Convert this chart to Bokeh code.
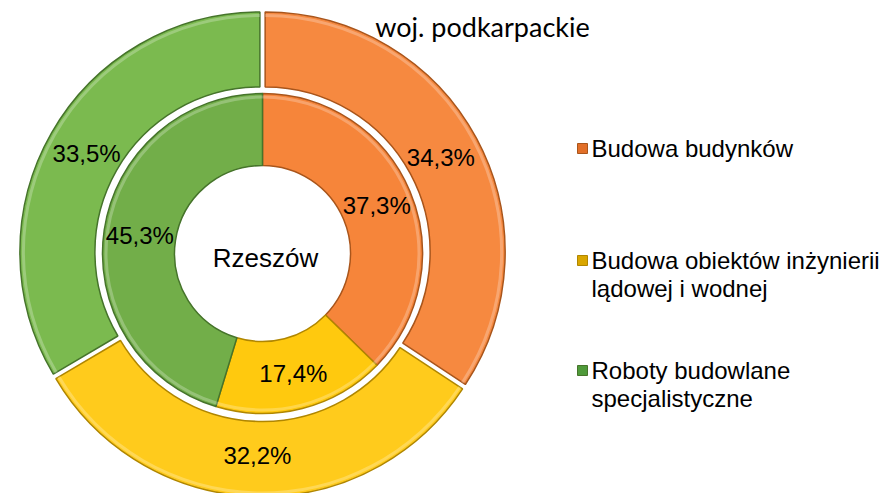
import math
from bokeh.plotting import figure
from bokeh.models import ColumnDataSource
from bokeh.core.properties import value
from bokeh.embed import file_html
from bokeh.resources import INLINE

# ---- data ----
categories = ["Budowa budynków",
              "Budowa obiektów inżynierii lądowej i wodnej",
              "Roboty budowlane specjalistyczne"]
legend_lines = [["Budowa budynków"],
                ["Budowa obiektów inżynierii", "lądowej i wodnej"],
                ["Roboty budowlane", "specjalistyczne"]]
outer_name = "woj. podkarpackie"
inner_name = "Rzeszów"
outer_values = [34.3, 32.2, 33.5]
inner_values = [37.3, 17.4, 45.3]

# ---- style ----
outer_colors = ["#F68940", "#FFCB1C", "#7BBA4F"]
inner_colors = ["#F6853A", "#FFC90E", "#72AE49"]
edge_colors = ["#A9551B", "#B08600", "#46742B"]
legend_colors = ["#E26F28", "#D9A600", "#4F9A3A"]
label_font = value("Liberation Sans")

W, H = 885, 493
cx, cy = 262, 240
R_OUT = (165, 240)
R_IN = (88, 160)


def wedges(values):
    total = sum(values)
    starts, ends, mids = [], [], []
    a = math.pi / 2
    for v in values:
        e = a - 2 * math.pi * v / total
        starts.append(a)
        ends.append(e)
        mids.append((a + e) / 2)
        a = e
    return starts, ends, mids


p = figure(width=W, height=H, x_range=(0, W), y_range=(0, H),
           output_backend="svg", toolbar_location=None, min_border=0)
p.axis.visible = False
p.grid.visible = False
p.outline_line_color = None
p.background_fill_color = "white"
p.border_fill_color = "white"

# outer ring (slightly exploded)
s, e, m = wedges(outer_values)
off = 3
src_o = ColumnDataSource(dict(
    x=[cx + off * math.cos(a) for a in m],
    y=[cy + off * math.sin(a) for a in m],
    start=s, end=e, fill=outer_colors, edge=edge_colors))
p.annular_wedge(x="x", y="y", inner_radius=R_OUT[0], outer_radius=R_OUT[1],
                start_angle="start", end_angle="end", direction="clock",
                fill_color="fill", line_color="edge", line_width=1.5, source=src_o)
p.annular_wedge(x="x", y="y", inner_radius=R_OUT[1] - 5, outer_radius=R_OUT[1] - 2,
                start_angle="start", end_angle="end", direction="clock",
                fill_color="white", fill_alpha=0.25, line_color=None, source=src_o)

lr = (R_OUT[0] + R_OUT[1]) / 2
p.text(x=[cx + lr * math.cos(a) for a in m], y=[cy + lr * math.sin(a) for a in m],
       text=[f"{v:.1f}%".replace(".", ",") for v in outer_values],
       text_font=label_font, text_font_size="24px", text_color="black",
       text_align="center", text_baseline="middle")

# inner ring
s2, e2, m2 = wedges(inner_values)
src_i = ColumnDataSource(dict(
    x=[cx] * 3, y=[cy] * 3, start=s2, end=e2, fill=inner_colors, edge=edge_colors))
p.annular_wedge(x="x", y="y", inner_radius=R_IN[0], outer_radius=R_IN[1],
                start_angle="start", end_angle="end", direction="clock",
                fill_color="fill", line_color="edge", line_width=1.5, source=src_i)
p.annular_wedge(x="x", y="y", inner_radius=R_IN[1] - 5, outer_radius=R_IN[1] - 2,
                start_angle="start", end_angle="end", direction="clock",
                fill_color="white", fill_alpha=0.25, line_color=None, source=src_i)

lr2 = (R_IN[0] + R_IN[1]) / 2
p.text(x=[cx + lr2 * math.cos(a) for a in m2], y=[cy + lr2 * math.sin(a) for a in m2],
       text=[f"{v:.1f}%".replace(".", ",") for v in inner_values],
       text_font=label_font, text_font_size="24px", text_color="black",
       text_align="center", text_baseline="middle")

# centre and title
p.text(x=[cx + 3], y=[cy - 4], text=[inner_name], text_font=label_font,
       text_font_size="26px", text_color="black",
       text_align="center", text_baseline="middle")
p.text(x=[482], y=[467], text=[outer_name], text_font=value("Lato"),
       text_font_size="27px", text_color="black",
       text_align="center", text_baseline="middle")

# legend
ly = [345, 233, 123]
lx = 582
p.scatter(x=[lx] * 3, y=ly, marker="square", size=10,
          fill_color=legend_colors, line_color=edge_colors, line_width=1)
for y0, lines in zip(ly, legend_lines):
    for k, t in enumerate(lines):
        p.text(x=[lx + 9], y=[y0 - 28 * k], text=[t], text_font=label_font,
               text_font_size="24px", text_color="black",
               text_align="left", text_baseline="middle")

open("out.html", "w").write(file_html(p, INLINE))
